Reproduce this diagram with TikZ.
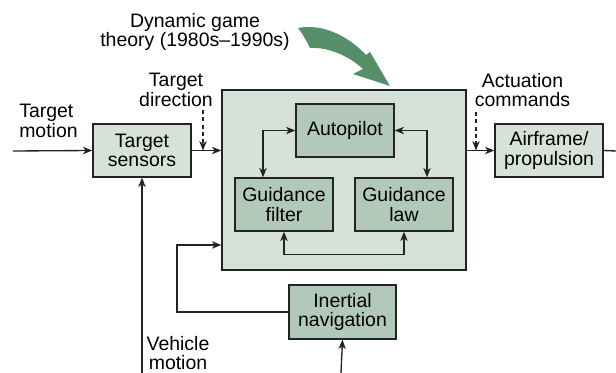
\documentclass[tikz,border=0pt]{standalone}
\usepackage{fontspec}
\setmainfont{Liberation Sans}
\usetikzlibrary{arrows.meta,calc}

\definecolor{boxlight}{RGB}{214,226,217}
\definecolor{boxdark}{RGB}{178,201,186}
\definecolor{gamegreen}{RGB}{84,143,106}
\definecolor{edgegray}{RGB}{35,35,35}

\tikzset{
  lightbox/.style={draw=edgegray, line width=1pt, fill=boxlight, align=center, inner sep=0pt},
  darkbox/.style={draw=edgegray, line width=1pt, fill=boxdark, align=center, inner sep=0pt},
  wire/.style={draw=edgegray, line width=1pt, -{Stealth[length=7pt,width=5.5pt,inset=2pt]}},
  twowire/.style={draw=edgegray, line width=1pt, {Stealth[length=7pt,width=5.5pt,inset=2pt]}-{Stealth[length=7pt,width=5.5pt,inset=2pt]}},
  dashwire/.style={wire, dash pattern=on 3pt off 2.5pt},
  lbl/.style={align=center, inner sep=0pt}
}

\begin{document}
\begin{tikzpicture}[x=0.75pt,y=0.75pt,yscale=-1,xscale=1,font=\fontsize{14.6}{14.5}\selectfont]
  \useasboundingbox (0,0) rectangle (616,373);

  % blocks
  \node[lightbox, minimum width=183pt, minimum height=135pt] (guid) at (344,180) {};
  \node[lightbox, minimum width=73.5pt, minimum height=39.75pt] (sens) at (142,150.5) {Target\\sensors};
  \node[darkbox, minimum width=73.5pt, minimum height=39.75pt] (auto) at (345,130.5) {Autopilot};
  \node[darkbox, minimum width=73.5pt, minimum height=39.75pt] (filt) at (284,204.5) {Guidance\\filter};
  \node[darkbox, minimum width=73.5pt, minimum height=39.75pt] (law) at (404,204.5) {Guidance\\law};
  \node[darkbox, minimum width=80.25pt, minimum height=40.5pt] (inav) at (342.5,312) {Inertial\\navigation};
  \node[lightbox, minimum width=81pt, minimum height=39.75pt] (air) at (549,150.5) {Airframe/\\propulsion};

  % labels
  \node[lbl, align=left, anchor=west] (tmotion) at (19,121) {Target\\motion};
  \node[lbl] (tdir) at (176,90) {Target\\direction};
  \node[lbl] (act) at (522.5,90) {Actuation\\commands};
  \node[lbl] (vmotion) at (178,353) {Vehicle\\motion};
  \node[lbl] (game) at (195,32) {Dynamic game\\theory (1980s--1990s)};

  % free ends
  \coordinate (tin) at (13,151);
  \coordinate (vin) at (142,373);
  \coordinate (nin) at (341,373);
  \coordinate (aout) at (616,151);
  \coordinate (tdtop) at (203,110);
  \coordinate (actop) at (476,112);
  \coordinate (fb) at (177,245);

  % connectors
  \draw[wire] (tin) -- (sens.west);
  \draw[wire] (sens.east) -- (sens.east -| guid.west);
  \draw[dashwire] (tdtop) -- (tdtop |- sens.east);
  \draw[wire] (vin) -- (sens.south);
  \draw[twowire] (auto.west) -| ($(filt.north)+(-21,0)$);
  \draw[twowire] (auto.east) -| ($(law.north)+(23,0)$);
  \draw[twowire] (filt.south) -- ++(0,23) -| (law.south);
  \draw[wire] (inav.west) -| (fb) -- (fb -| guid.west);
  \draw[wire] (nin) -- (inav.south);
  \draw[wire] (air.west -| guid.east) -- (air.west);
  \draw[dashwire] (actop) -- (actop |- air.west);
  \draw[draw=edgegray, line width=1pt] (air.east) -- (aout);

  % game theory arrow
  \fill[gamegreen] (298,28) .. controls (325,23) and (350,38) .. (366,55) -- (370,52) -- (390,86) -- (353,74) -- (363,69) .. controls (350,57) and (330,47) .. (310,48) .. controls (306,40) and (302,33) .. (298,28) -- cycle;
\end{tikzpicture}
\end{document}
